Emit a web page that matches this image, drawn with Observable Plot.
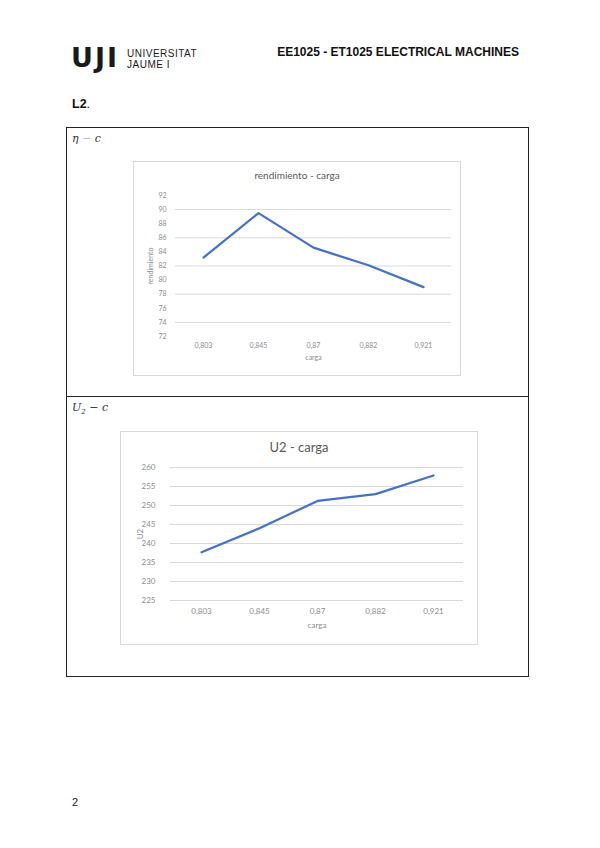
<!DOCTYPE html>
<html>
<head>
<meta charset="utf-8">
<script src="https://cdn.jsdelivr.net/npm/d3@7"></script>
<script src="https://cdn.jsdelivr.net/npm/@observablehq/plot@0.6"></script>
<style>
  html, body { margin:0; padding:0; background:#fff; }
  #page { position:relative; width:600px; height:848px; overflow:hidden; font-family:"Liberation Sans", Arial, sans-serif; }
  .abs { position:absolute; }
  .frame { position:absolute; border:1px solid #d9d9d9; box-sizing:border-box; background:#fff; }
  .ctitle { position:absolute; font-family:Lato, "Open Sans", sans-serif; color:#595959; text-align:center; white-space:nowrap; }
</style>
</head>
<body>
<div id="page">
  <!-- header -->
  <div class="abs" style="left:71px; top:44px; font-family:'DejaVu Sans'; font-weight:bold; font-size:27px; line-height:27px; letter-spacing:2px; color:#1a1a1a;">UJI</div>
  <div class="abs" style="left:127px; top:49px; font-size:10px; line-height:10px; color:#1a1a1a; letter-spacing:0.5px;">UNIVERSITAT</div>
  <div class="abs" style="left:127px; top:60px; font-size:10px; line-height:10px; color:#1a1a1a; letter-spacing:0.5px;">JAUME I</div>
  <div class="abs" style="right:81px; top:45px; font-size:12px; font-weight:bold; color:#111;">EE1025 - ET1025 ELECTRICAL MACHINES</div>
  <div class="abs" style="left:72px; top:97px; font-size:12.5px; font-weight:bold; color:#111;">L2<span style="font-weight:normal">.</span></div>

  <!-- table box -->
  <div class="abs" style="left:66px; top:127px; width:463px; height:550px; border:1px solid #222; box-sizing:border-box;"></div>
  <div class="abs" style="left:66px; top:396px; width:463px; height:1px; background:#222;"></div>
  <div class="abs" style="left:72px; top:132px; font-family:'DejaVu Serif'; font-style:italic; font-size:11px; color:#333;">η <span style="font-style:normal;color:#bbb">−</span> c</div>
  <div class="abs" style="left:72px; top:401px; font-family:'DejaVu Serif'; font-style:italic; font-size:11px; color:#333;">U<sub style="font-size:7px">2</sub> <span style="font-style:normal">−</span> c</div>

  <!-- chart frames -->
  <div class="frame" id="f1" style="left:133px; top:161px; width:328px; height:215px;"></div>
  <div class="frame" id="f2" style="left:120px; top:431px; width:358px; height:214px;"></div>
  <div class="ctitle" style="left:133px; width:328px; top:169px; font-size:10px;">rendimiento - carga</div>
  <div class="ctitle" style="left:120px; width:358px; top:439px; font-size:13px;">U2 - carga</div>

  <div class="abs" style="left:72px; top:796px; font-size:11px; color:#222;">2</div>
</div>
<script>
// ---- data ----
const cargaLabels = ["0,803", "0,845", "0,87", "0,882", "0,921"];
const rendimiento = [83.2, 89.5, 84.6, 82.1, 79.0];
const u2 = [237.7, 244.0, 251.2, 253.0, 257.9];
const yTicks1 = [72, 74, 76, 78, 80, 82, 84, 86, 88, 90, 92];
const grid1 = [74, 78, 82, 86, 90];
const yTicks2 = [225, 230, 235, 240, 245, 250, 255, 260];

const blue = "#4472C4";
const rows1 = cargaLabels.map((c, i) => ({carga: c, v: rendimiento[i]}));
const rows2 = cargaLabels.map((c, i) => ({carga: c, v: u2[i]}));

const chart1 = Plot.plot({
  width: 328, height: 215,
  marginLeft: 42, marginRight: 10, marginTop: 34, marginBottom: 40,
  style: {fontFamily: "Lato, 'Open Sans', sans-serif", fontSize: "7px", color: "#8c8c8c", background: "transparent"},
  x: {type: "point", domain: cargaLabels, padding: 0.5},
  y: {domain: [72, 92]},
  marks: [
    Plot.ruleY(grid1, {stroke: "#d9d9d9", strokeWidth: 1}),
    Plot.axisY({ticks: yTicks1, tickSize: 0, tickPadding: 9, label: "rendimiento", labelAnchor: "center", labelOffset: 27, labelArrow: "none"}),
    Plot.axisX({tickSize: 0, tickPadding: 7, label: "carga", labelAnchor: "center", labelOffset: 23, labelArrow: "none"}),
    Plot.line(rows1, {x: "carga", y: "v", stroke: blue, strokeWidth: 2.25})
  ]
});
chart1.style.position = "absolute";
chart1.style.left = "133px";
chart1.style.top = "161px";
document.getElementById("page").appendChild(chart1);

const chart2 = Plot.plot({
  width: 358, height: 214,
  marginLeft: 50, marginRight: 15, marginTop: 36, marginBottom: 45,
  style: {fontFamily: "Lato, 'Open Sans', sans-serif", fontSize: "8px", color: "#8c8c8c", background: "transparent"},
  x: {type: "point", domain: cargaLabels, padding: 0.5},
  y: {domain: [225, 260]},
  marks: [
    Plot.ruleY(yTicks2, {stroke: "#d9d9d9", strokeWidth: 1}),
    Plot.axisY({ticks: yTicks2, tickSize: 0, tickPadding: 15, label: "U2", labelAnchor: "center", labelOffset: 33, labelArrow: "none"}),
    Plot.axisX({tickSize: 0, tickPadding: 8, label: "carga", labelAnchor: "center", labelOffset: 27, labelArrow: "none"}),
    Plot.line(rows2, {x: "carga", y: "v", stroke: blue, strokeWidth: 2.25})
  ]
});
chart2.style.position = "absolute";
chart2.style.left = "120px";
chart2.style.top = "431px";
document.getElementById("page").appendChild(chart2);
</script>
</body>
</html>
